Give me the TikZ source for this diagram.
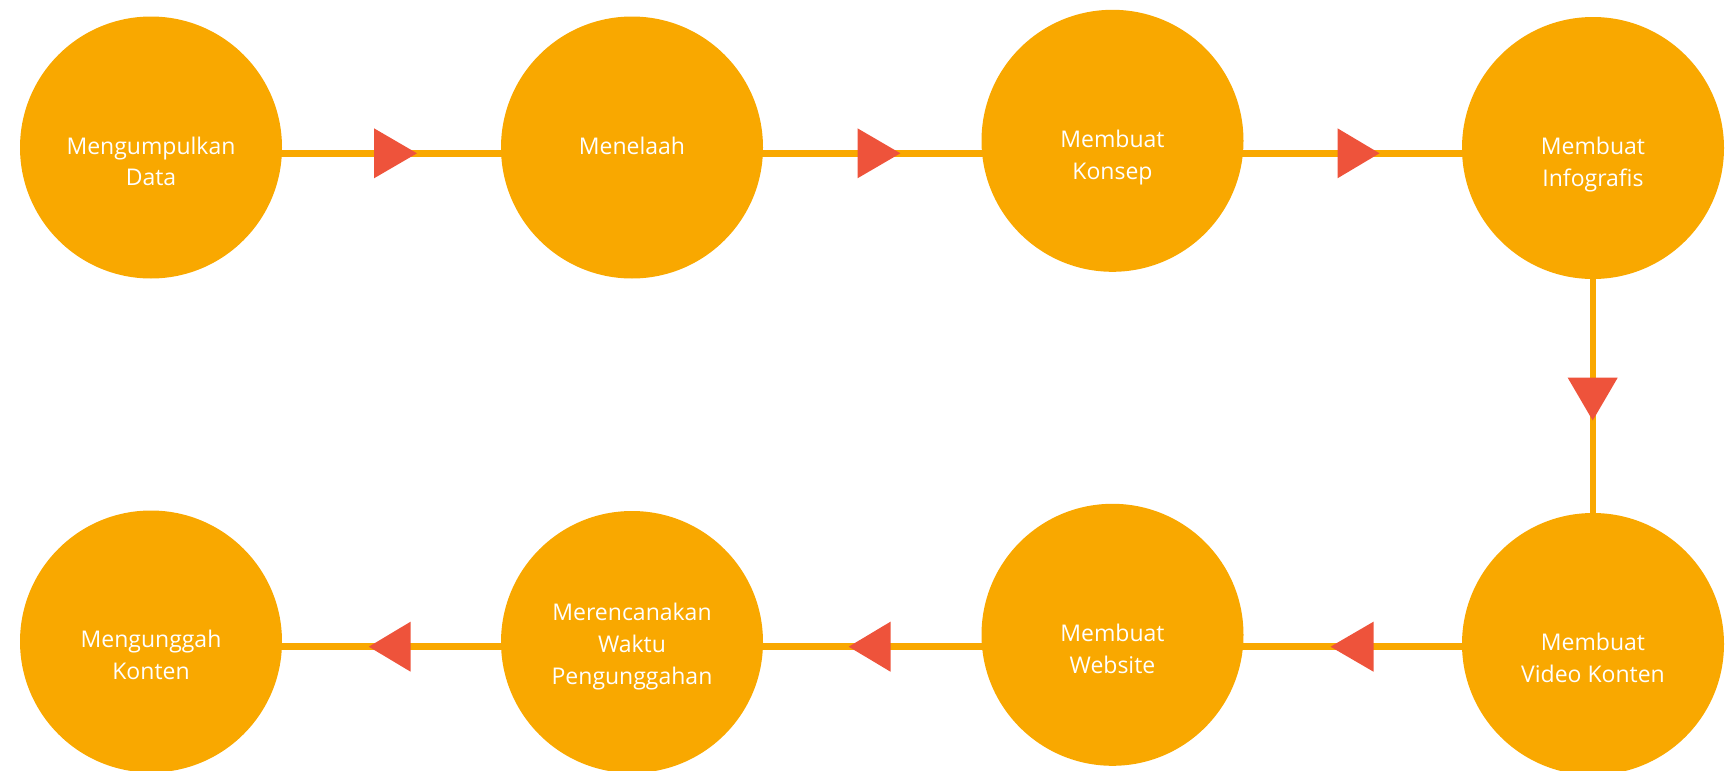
\documentclass[tikz,border=0pt]{standalone}
\usepackage{fontspec}
\setmainfont{Open Sans}
\usetikzlibrary{calc,backgrounds}
\definecolor{orng}{RGB}{249,168,0}
\definecolor{redt}{RGB}{238,83,59}
\newcommand\stk[1]{\begin{tabular}[t]{@{}c@{}}#1\end{tabular}}
\begin{document}
\begin{tikzpicture}[x=0.5pt,y=-0.5pt,
  stage/.style={circle, fill=orng, minimum size=131pt, inner sep=0pt},
  lbl/.style={text=white, font=\fontsize{11.5}{15.85}\selectfont, anchor=base, inner sep=0pt},
  conn/.style={draw=orng, line width=3.35pt},
  tri/.style={fill=redt}]
\useasboundingbox (0,0) rectangle (1726,771);
% stages
\node[stage] (c1) at (151,147.5) {};
\node[stage] (c2) at (632,147.5) {};
\node[stage] (c3) at (1112.5,140.8) {};
\node[stage] (c4) at (1593,148) {};
\node[stage] (c5) at (1593,644) {};
\node[stage] (c6) at (1112.5,634.8) {};
\node[stage] (c7) at (632,642) {};
\node[stage] (c8) at (151,641.5) {};
% labels
\node[lbl] (t1) at ($(c1)+(0,6.5)$) {\stk{Mengumpulkan\\Data}};
\node[lbl] (t2) at ($(c2)+(0,6.5)$) {\stk{Menelaah}};
\node[lbl] (t3) at ($(c3)+(0,6.5)$) {\stk{Membuat\\Konsep}};
\node[lbl] (t4) at ($(c4)+(0,6.5)$) {\stk{Membuat\\Infografis}};
\node[lbl] (t5) at ($(c5)+(0,6.5)$) {\stk{Membuat\\Video Konten}};
\node[lbl] (t6) at ($(c6)+(0,6.9)$) {\stk{Membuat\\Website}};
\node[lbl] (t7) at ($(c7)+(0,-21.3)$) {\stk{Merencanakan\\Waktu\\Pengunggahan}};
\node[lbl] (t8) at ($(c8)+(0,6.2)$) {\stk{Mengunggah\\Konten}};
% connectors
\coordinate (r1) at (0,153.3);
\coordinate (r2) at (0,646.7);
\begin{pgfonlayer}{background}
\draw[conn] (c1 |- r1) -- (c2 |- r1);
\draw[conn] (c2 |- r1) -- (c3 |- r1);
\draw[conn] (c3 |- r1) -- (c4 |- r1);
\draw[conn] (c4) -- (c5);
\draw[conn] (c5 |- r2) -- (c6 |- r2);
\draw[conn] (c6 |- r2) -- (c7 |- r2);
\draw[conn] (c7 |- r2) -- (c8 |- r2);
\end{pgfonlayer}
% arrowheads
\fill[tri] (374,128.3) -- (417,153.3) -- (374,178.3) -- cycle;
\fill[tri] (857.5,128.3) -- (900.4,153.3) -- (857.5,178.3) -- cycle;
\fill[tri] (1337.5,128.3) -- (1379.5,153.3) -- (1337.5,178.3) -- cycle;
\fill[tri] (1567.7,377.7) -- (1592.7,420.5) -- (1617.7,377.7) -- cycle;
\fill[tri] (1373.5,621.7) -- (1330.5,646.7) -- (1373.5,671.7) -- cycle;
\fill[tri] (890.5,621.7) -- (848.7,646.7) -- (890.5,671.7) -- cycle;
\fill[tri] (410.6,621.7) -- (368.8,646.7) -- (410.6,671.7) -- cycle;
\end{tikzpicture}
\end{document}
